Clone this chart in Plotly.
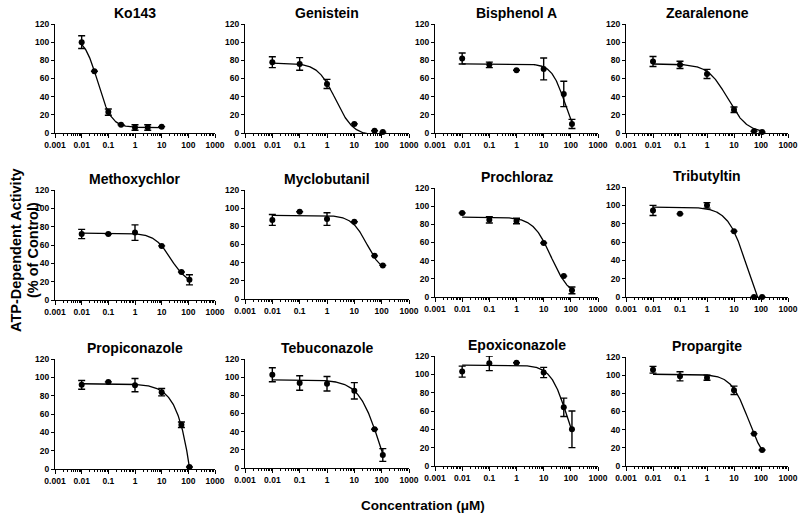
import numpy as np
import plotly.graph_objects as go

# ---------------- data ----------------
compounds = ["Ko143", "Genistein", "Bisphenol A", "Zearalenone",
             "Methoxychlor", "Myclobutanil", "Prochloraz", "Tributyltin",
             "Propiconazole", "Tebuconazole", "Epoxiconazole", "Propargite"]

conc_ko143 = [0.01, 0.03, 0.1, 0.3, 1, 3, 10]
conc_std = [0.01, 0.1, 1, 10, 55, 110]

ko143_mean = [100, 68, 23, 9, 6, 6, 7]
ko143_err = [7, None, 3.5, None, 3, 3, None]
genistein_mean = [78, 76, 54, 10, 2.5, 1]
genistein_err = [6, 7, 5, None, None, None]
bisphenol_mean = [82, 75, 69, 70.5, 43, 10]
bisphenol_err = [6, 3, None, 12, 14, 5]
zearalenone_mean = [78.7, 75, 65, 25.6, 2, 1]
zearalenone_err = [5.5, 4, 5, 3, None, None]
methoxychlor_mean = [72, 72, 73.5, 59, 30.5, 22]
methoxychlor_err = [5, None, 8.5, None, None, 5.5]
myclobutanil_mean = [87, 96, 88, 85, 47.5, 37]
myclobutanil_err = [6, None, 7, None, None, None]
prochloraz_mean = [92.5, 85, 83.7, 59.4, 23, 7.3]
prochloraz_err = [None, 3.5, 3, None, None, 3.7]
tributyltin_mean = [94.4, 90.7, 100, 71.7, 0, 0]
tributyltin_err = [5.5, None, 3, None, None, None]
propiconazole_mean = [91.8, 95, 91.5, 83.8, 48.3, 2.2]
propiconazole_err = [4.8, None, 7.3, 4, 3, None]
tebuconazole_mean = [102.7, 93.6, 92.8, 85, 42.6, 14.3]
tebuconazole_err = [7.7, 8, 8, 9, None, 7]
epoxiconazole_mean = [103, 112, 112.7, 102, 64, 40]
epoxiconazole_err = [6, 8, None, 5.6, 10, 20]
propargite_mean = [106, 98.7, 97.2, 83.3, 35.6, 17.6]
propargite_err = [3.7, 5, 2.8, 4.6, None, None]

# fitted four-parameter logistic curves
fit_top = [106, 77, 76, 76, 73, 92, 88, 98, 93, 97, 110, 101]
fit_bottom = [6, -3, -10, 0, 17, 28, 0, -40, -1000, -50, 0, 0]
fit_ic50 = [0.04, 2.05, 60, 5.8, 21.9, 29.2, 19, 33, 1074, 90, 71.3, 34.5]
fit_hill = [1.72, 1.35, 1.8, 1.2, 1.4, 1.53, 1.3, 1.2, 1.05, 1.1, 1.45, 1.35]

x_tick_vals = [0.001, 0.01, 0.1, 1, 10, 100, 1000]
x_tick_text = ["0.001", "0.01", "0.1", "1", "10", "100", "1000"]
y_tick_vals = [0, 20, 40, 60, 80, 100, 120]

means = [ko143_mean, genistein_mean, bisphenol_mean, zearalenone_mean,
         methoxychlor_mean, myclobutanil_mean, prochloraz_mean, tributyltin_mean,
         propiconazole_mean, tebuconazole_mean, epoxiconazole_mean, propargite_mean]
errs = [ko143_err, genistein_err, bisphenol_err, zearalenone_err,
        methoxychlor_err, myclobutanil_err, prochloraz_err, tributyltin_err,
        propiconazole_err, tebuconazole_err, epoxiconazole_err, propargite_err]
concs = [conc_ko143] + [conc_std] * 11

# ---------------- layout geometry (pixels) ----------------
W, H = 800, 520
px_x0 = [55, 245, 435, 626]
px_x1 = [215, 409, 598, 788]
px_top = [24, 24, 24, 24, 190, 190, 188, 187, 359, 359, 356, 357]
px_bot = [133, 133, 133, 133, 300, 299, 297, 297, 469, 468, 466, 466]


def fx(px):
    return px / W


def fy(px):
    return 1 - px / H


FONT = "Liberation Sans, Arial, Helvetica, sans-serif"
minor_vals = [k * 10.0 ** e for e in range(-3, 3) for k in range(2, 10)]

fig = go.Figure()
annotations = []
layout = {}

for i, name in enumerate(compounds):
    n = i + 1
    xa = "x" if n == 1 else f"x{n}"
    ya = "y" if n == 1 else f"y{n}"
    xkey = "xaxis" if n == 1 else f"xaxis{n}"
    ykey = "yaxis" if n == 1 else f"yaxis{n}"
    col = i % 4

    c = concs[i]
    xs = np.logspace(np.log10(c[0]), np.log10(c[-1]), 300)
    T, B, C, h = fit_top[i], fit_bottom[i], fit_ic50[i], fit_hill[i]
    ys = B + (T - B) / (1 + (xs / C) ** h)

    fig.add_trace(go.Scatter(x=xs, y=ys, mode="lines", xaxis=xa, yaxis=ya,
                             line=dict(color="black", width=1.3),
                             showlegend=False, hoverinfo="skip"))
    fig.add_trace(go.Scatter(x=c, y=means[i], mode="markers", xaxis=xa, yaxis=ya,
                             marker=dict(color="black", size=6),
                             error_y=dict(type="data", array=errs[i], visible=True,
                                          color="black", thickness=1.4, width=3.5),
                             cliponaxis=False, showlegend=False))

    layout[xkey] = dict(
        domain=[fx(px_x0[col]), fx(px_x1[col])], anchor=ya, type="log",
        range=[-3, 3], automargin=False,
        tickmode="array", tickvals=x_tick_vals, ticktext=x_tick_text,
        ticks="outside", ticklen=4, tickwidth=1.2, tickcolor="black",
        minor=dict(tickmode="array", tickvals=minor_vals, ticks="outside",
                   ticklen=2, tickwidth=1, tickcolor="black"),
        showline=True, linecolor="black", linewidth=1.2,
        showgrid=False, zeroline=False,
        tickfont=dict(family=FONT, size=8.5, color="black", weight="bold"),
    )
    layout[ykey] = dict(
        domain=[fy(px_bot[i]), fy(px_top[i])], anchor=xa, range=[0, 120],
        automargin=False,
        tickmode="array", tickvals=y_tick_vals,
        ticks="outside", ticklen=3, tickwidth=1.2, tickcolor="black",
        showline=True, linecolor="black", linewidth=1.2,
        showgrid=False, zeroline=False,
        tickfont=dict(family=FONT, size=8.5, color="black", weight="bold"),
    )
    annotations.append(dict(
        text=f"<b>{name}</b>", xref="paper", yref="paper",
        x=fx((px_x0[col] + px_x1[col]) / 2), y=fy(px_top[i] - 11),
        xanchor="center", yanchor="middle", showarrow=False,
        font=dict(family=FONT, size=14, color="black")))

annotations.append(dict(
    text="<b>Concentration (μM)</b>", xref="paper", yref="paper",
    x=fx(423), y=fy(505), xanchor="center", yanchor="middle",
    showarrow=False, font=dict(family=FONT, size=13.5, color="black")))
for txt, xpx in [("ATP-Dependent Activity", 16), ("(% of Control)", 33)]:
    annotations.append(dict(
        text=f"<b>{txt}</b>", xref="paper", yref="paper",
        x=fx(xpx), y=fy(250), xanchor="center", yanchor="middle",
        textangle=-90, showarrow=False,
        font=dict(family=FONT, size=14.5, color="black")))

fig.update_layout(
    template="none",
    width=W, height=H, margin=dict(l=0, r=0, t=0, b=0, pad=0, autoexpand=False),
    paper_bgcolor="white", plot_bgcolor="white",
    annotations=annotations, showlegend=False, **layout)

# remove the browser's default 8px page margin so the figure fills the window
fig.write_html("out.html",
               config={"displayModeBar": False},
               post_script="document.body.style.margin='0px';"
                           "document.body.style.overflow='hidden';")
